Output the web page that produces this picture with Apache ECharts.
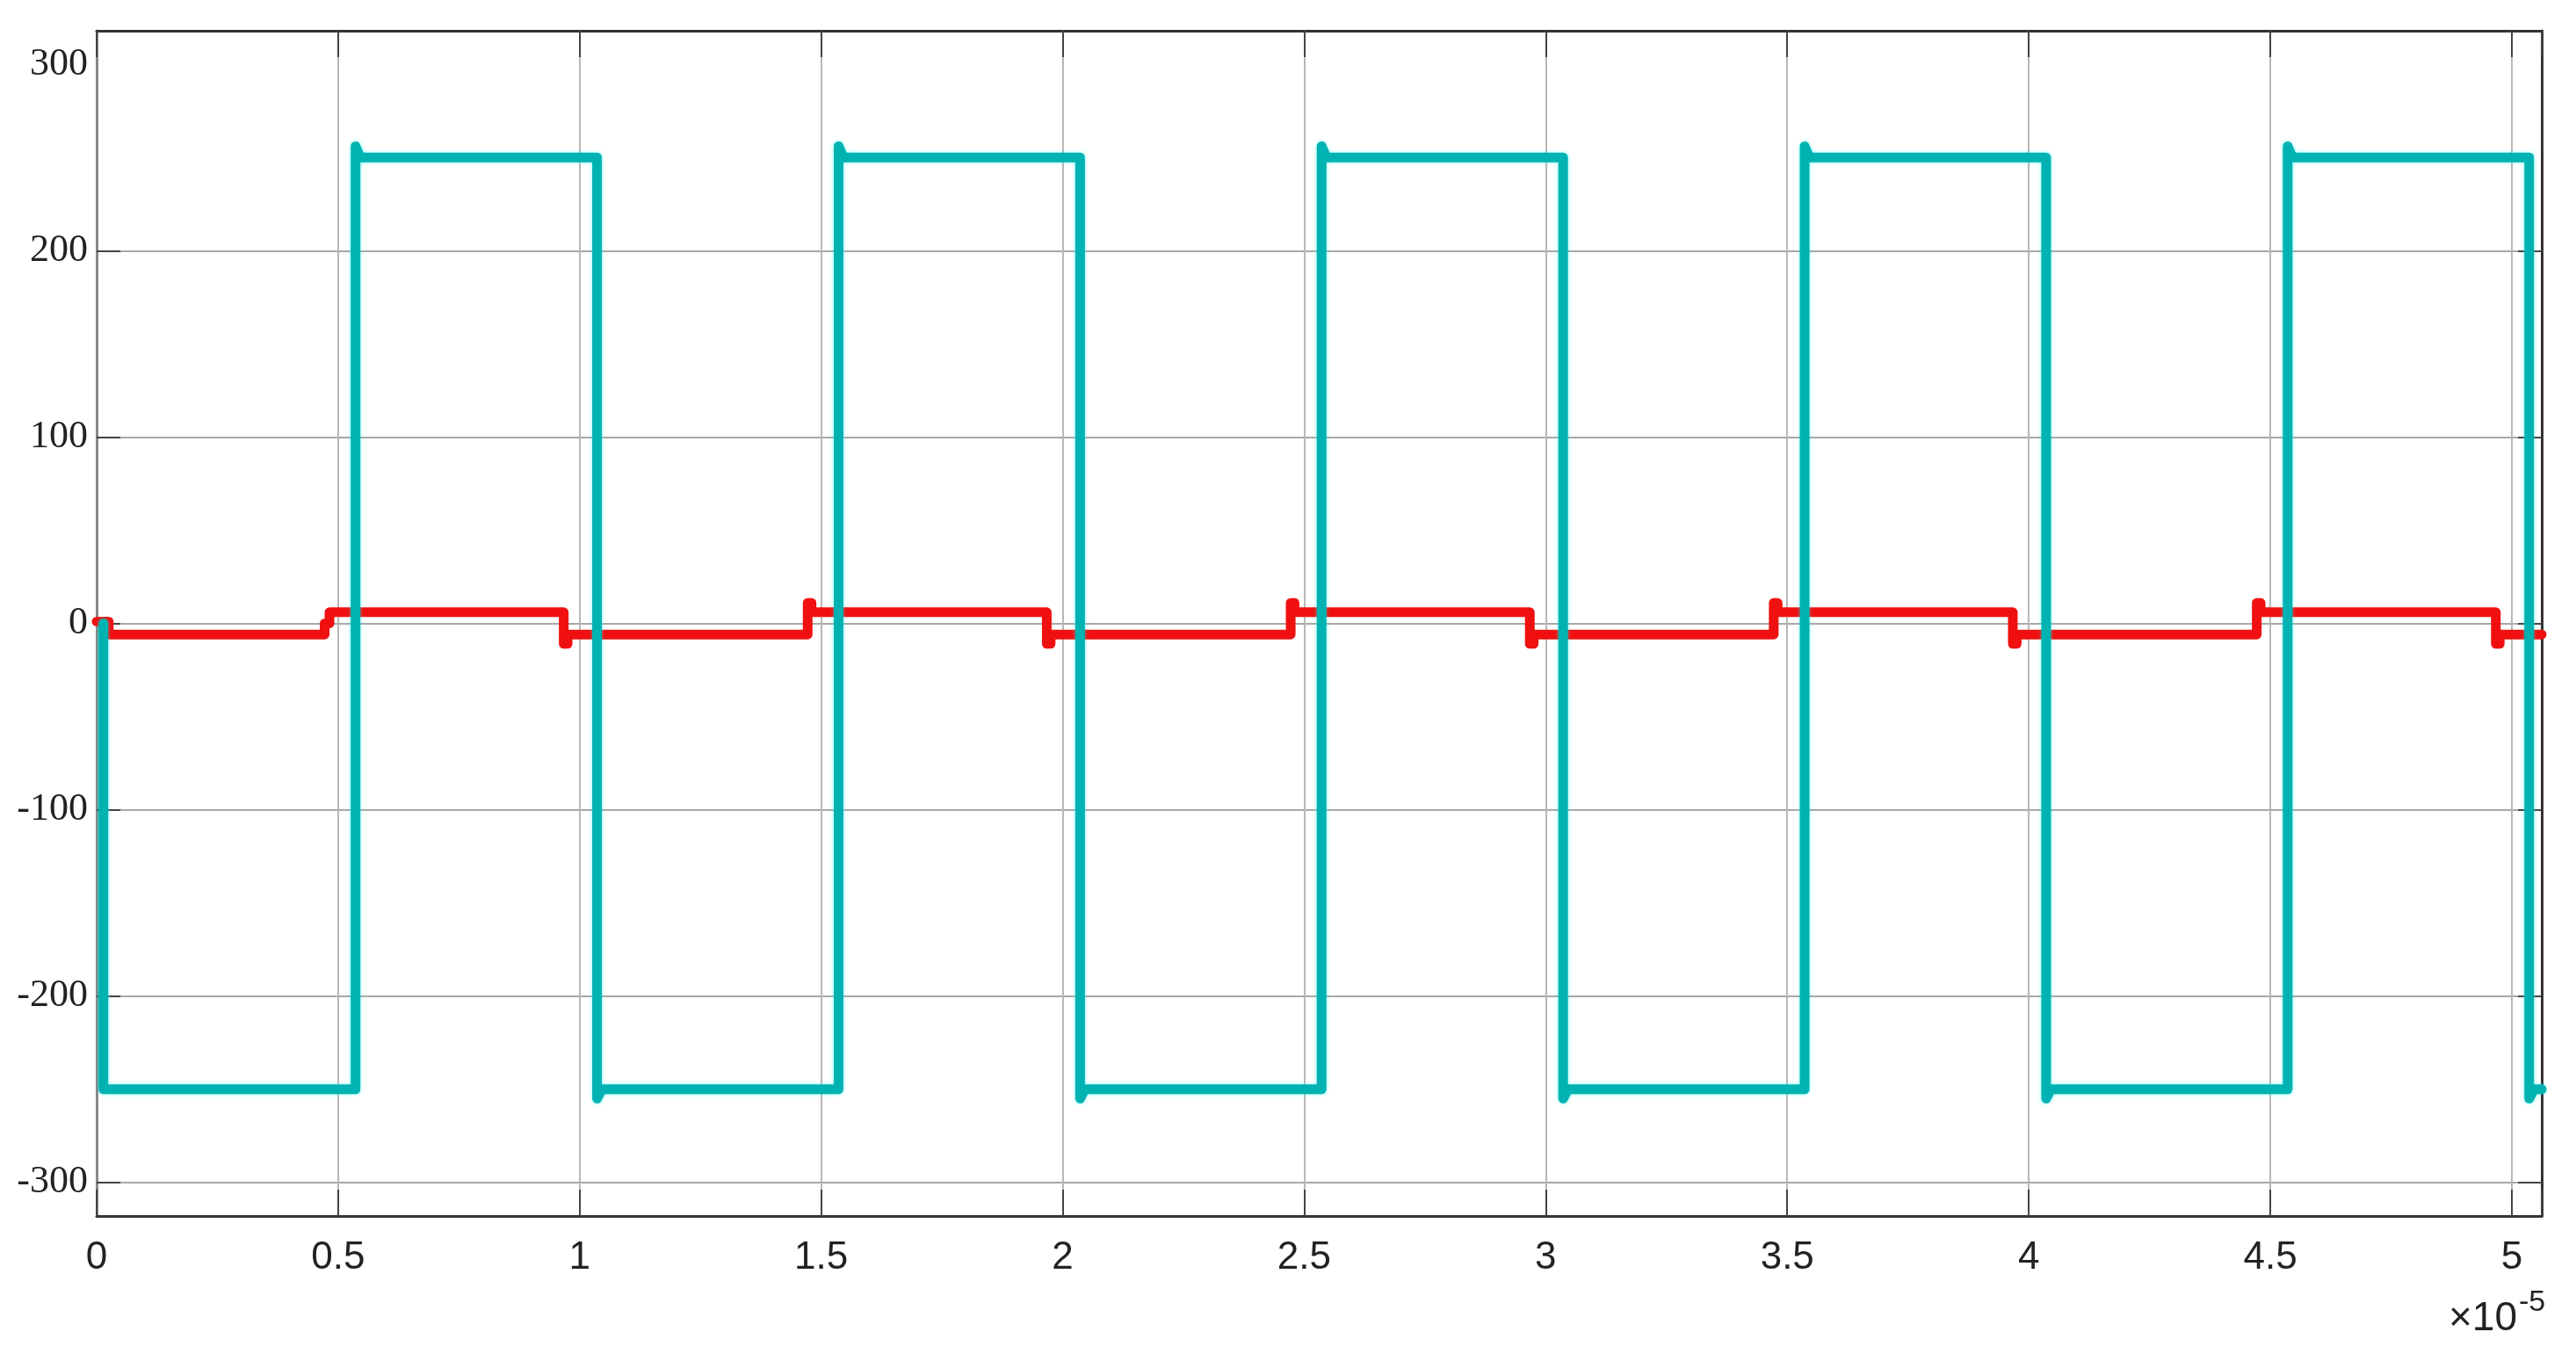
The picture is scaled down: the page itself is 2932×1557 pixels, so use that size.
<!DOCTYPE html>
<html>
<head>
<meta charset="utf-8">
<script src="https://cdn.jsdelivr.net/npm/echarts@6/dist/echarts.min.js"></script>
<style>
html,body{margin:0;padding:0;background:#fff;}
#c{width:2932px;height:1557px;}
</style>
</head>
<body>
<div id="c"></div>
<script>
// time axis values are in units of 1e-5 s (shown with the ×10^-5 multiplier)
const xTickLabels = ['0','0.5','1','1.5','2','2.5','3','3.5','4','4.5','5'];
const yTickLabels = ['-300','-200','-100','0','100','200','300'];
// y values that carry a tick mark and a grid line (the 300 level has none in the original)
const yGridValues = [-300,-200,-100,0,100,200];

// cyan square wave (time, value)
const cyanT = [0.014,0.014,0.536,0.536,0.546,1.036,1.036,1.046,1.536,1.536,1.546,2.036,2.036,2.046,2.536,2.536,2.546,3.036,3.036,3.046,3.536,3.536,3.546,4.036,4.036,4.046,4.536,4.536,4.546,5.036,5.036,5.046,5.062];
const cyanV = [0,-250,-250,256,250,250,-255,-250,-250,256,250,250,-255,-250,-250,256,250,250,-255,-250,-250,256,250,250,-255,-250,-250,256,250,250,-255,-250,-250];

// red small square wave (time, value)
const redT = [0,0.025,0.025,0.472,0.472,0.482,0.482,0.967,0.967,0.975,0.975,1.472,1.472,1.480,1.480,1.967,1.967,1.975,1.975,2.472,2.472,2.480,2.480,2.967,2.967,2.975,2.975,3.472,3.472,3.480,3.480,3.967,3.967,3.975,3.975,4.472,4.472,4.480,4.480,4.967,4.967,4.975,4.975,5.062];
const redV = [1,1,-6,-6,0,0,6,6,-11,-11,-6,-6,11,11,6,6,-11,-11,-6,-6,11,11,6,6,-11,-11,-6,-6,11,11,6,6,-11,-11,-6,-6,11,11,6,6,-11,-11,-6,-6];

const X_MIN = 0, X_MAX = 5.062, Y_MIN = -318, Y_MAX = 318;

const cyanData = cyanT.map((t,i)=>[t,cyanV[i]]);
const redData = redT.map((t,i)=>[t,redV[i]]);

function xFmt(v){
  const s = String(Math.round(v*10)/10);
  return xTickLabels.indexOf(s) >= 0 && Math.abs(v*2 - Math.round(v*2)) < 1e-6 ? s : '';
}
function yFmt(v){
  const s = String(Math.round(v));
  return (Math.abs(v/100 - Math.round(v/100)) < 1e-6 && yTickLabels.indexOf(s) >= 0) ? s : '';
}

const chart = echarts.init(document.getElementById('c'), null, {renderer:'canvas'});
const tickStyle = {show:true, inside:true, length:30, lineStyle:{color:'#444', width:2}};
chart.setOption({
  animation:false,
  backgroundColor:'#ffffff',
  grid:{left:110, right:39, top:35, bottom:173, containLabel:false},
  xAxis:[
    {type:'value', position:'bottom', min:X_MIN, max:X_MAX, interval:0.5,
     axisLine:{show:true, onZero:false, lineStyle:{color:'#333', width:3}},
     axisTick:tickStyle,
     axisLabel:{formatter:xFmt, fontFamily:'Liberation Sans', fontSize:44, color:'#222', margin:26},
     splitLine:{show:true, lineStyle:{color:'#b8b8b8', width:2}}},
    {type:'value', position:'top', min:X_MIN, max:X_MAX, interval:0.5,
     axisLine:{show:true, onZero:false, lineStyle:{color:'#333', width:3}},
     axisTick:tickStyle, axisLabel:{show:false}, splitLine:{show:false}}
  ],
  yAxis:[
    {type:'value', position:'left', min:Y_MIN, max:Y_MAX, splitNumber:6,
     axisLine:{show:true, onZero:false, lineStyle:{color:'#888', width:3}},
     axisTick:Object.assign({}, tickStyle, {length:27, customValues:yGridValues}),
     axisLabel:{formatter:yFmt, fontFamily:'Liberation Serif', fontSize:44, color:'#222', margin:10,
                customValues:yTickLabels.map(Number)},
     splitLine:{show:true, lineStyle:{color:'#a8a8a8', width:2}}},
    {type:'value', position:'right', min:Y_MIN, max:Y_MAX, splitNumber:6,
     axisLine:{show:true, onZero:false, lineStyle:{color:'#333', width:3}},
     axisTick:Object.assign({}, tickStyle, {length:27, customValues:yGridValues}),
     axisLabel:{show:false}, splitLine:{show:false}}
  ],
  series:[
    {type:'line', name:'red', data:redData, xAxisIndex:0, yAxisIndex:0, showSymbol:false, z:3,
     lineStyle:{color:'#f01010', width:11, cap:'round', join:'round'}},
    {type:'line', name:'cyan', data:cyanData, xAxisIndex:0, yAxisIndex:0, showSymbol:false, z:4,
     lineStyle:{color:'#00b2b2', width:11, cap:'round', join:'round', shadowColor:'rgba(0,255,255,0.5)', shadowBlur:4}}
  ],
  graphic:[
    {type:'text', right:2932-2865, top:1478, style:{text:'\u00d710', font:'46px "Liberation Sans"', fill:'#222'}},
    {type:'text', left:2867, top:1466, style:{text:'-5', font:'34px "Liberation Sans"', fill:'#222'}}
  ]
});
</script>
</body>
</html>
